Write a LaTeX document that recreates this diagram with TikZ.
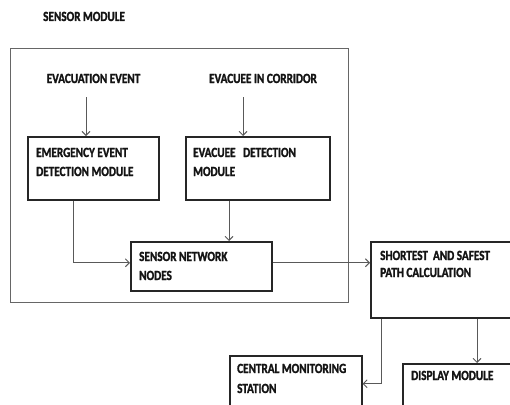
\documentclass[tikz,border=0pt]{standalone}
\usepackage{fontspec}
\setmainfont{Carlito Bold}[FakeStretch=0.8, FakeBold=1.6]
\usetikzlibrary{arrows.meta}

\tikzset{
	blk/.style={draw=black!85, line width=1.5pt, anchor=north west, inner sep=0pt},
	txt/.style={anchor=base west, inner sep=0pt, align=left, text=black!92,
		font=\fontsize{14}{19}\selectfont},
	arr/.style={draw=black!65, line width=0.9pt, -{Straight Barb[length=4pt,width=8pt]}}
}

\begin{document}
\begin{tikzpicture}[x=1pt, y=-1pt]
		%%%%% START %%%%%
		\useasboundingbox (0,0) rectangle (510,404);
		
		\node[txt] (title) at (43,21) {SENSOR MODULE};
		
		% sensor module frame
		\draw[black!60, line width=1pt] (10,48) rectangle (348,302);
		
		\node[txt, anchor=base] (evac) at (93.5,83) {EVACUATION EVENT};
		\node[txt, anchor=base] (corr) at (263,83) {EVACUEE IN CORRIDOR};
		\coordinate (evacin) at (86,97);
		\coordinate (corrin) at (243,97);
		
		\node[blk, minimum width=131pt, minimum height=63pt] (emg) at (27,136) {};
		\node[txt] (emgtxt) at (36,176) {EMERGENCY EVENT\\DETECTION MODULE};
		
		\node[blk, minimum width=144pt, minimum height=63pt] (det) at (185,136) {};
		\node[txt] (dettxt) at (193,176) {EVACUEE\ \ \ DETECTION\\MODULE};
		
		\node[blk, minimum width=141pt, minimum height=49pt] (snn) at (130,241) {};
		\node[txt] (snntxt) at (139,280) {SENSOR NETWORK\\NODES};
		
		\node[blk, minimum width=160pt, minimum height=76pt] (path) at (370,241) {};
		\node[txt, font=\fontsize{14}{17}\selectfont] (pathtxt) at (380,277) {SHORTEST\ \ AND SAFEST\\PATH CALCULATION};
		
		\node[blk, minimum width=132pt, minimum height=70pt] (cms) at (229,355) {};
		\node[txt, font=\fontsize{14}{20}\selectfont] (cmstxt) at (237,393) {CENTRAL MONITORING\\STATION};
		
		\node[blk, minimum width=130pt, minimum height=60pt] (disp) at (402,363) {};
		\node[txt] (disptxt) at (411,380) {DISPLAY MODULE};
		
		% arrows
		\draw[arr] (evacin) -- (evacin |- emg.north);
		\draw[arr] (corrin) -- (corrin |- det.north);
		\draw[arr] ([xshift=-19.5pt]emg.south) |- ([yshift=3.5pt]snn.west);
		\draw[arr] (det.south -| 229,0) -- (snn.north -| 229,0);
		\draw[arr] ([yshift=3.5pt]snn.east) -- ([yshift=3.5pt]snn.east -| path.west);
		\draw[arr] (path.south -| 381,0) |- ([yshift=7pt]cms.east);
		\draw[arr] (path.south -| 477,0) -- (disp.north -| 477,0);
		
		%%%%% END %%%%%
\end{tikzpicture}
\end{document}
